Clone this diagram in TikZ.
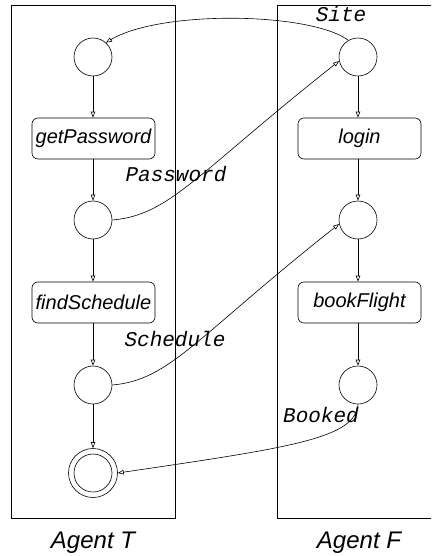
\documentclass[tikz,border=0pt]{standalone}
\usepackage{fontspec}
\setmainfont{Liberation Sans}
\newfontfamily\msgfont{Liberation Mono}
\usetikzlibrary{arrows.meta}

\begin{document}
\begin{tikzpicture}[x=1pt,y=1pt,line width=0.6pt,
    place/.style={draw,circle,minimum size=38pt,inner sep=0pt},
    action/.style={draw,rounded corners=6pt,minimum width=123pt,minimum height=41pt,
      inner sep=0pt,font=\fontsize{20}{24}\selectfont\itshape},
    flow/.style={-{Triangle[open,length=6pt,width=4.5pt]}},
    msg/.style={inner sep=0pt,font=\fontsize{21}{24}\selectfont\msgfont\itshape},
    agent/.style={anchor=base,font=\fontsize{24}{28}\selectfont\itshape}]
    \useasboundingbox (0,0) rectangle (431,-556);
    \clip (0,0) rectangle (431,-556);

    % the two agents
    \draw (11.7,-5.7) rectangle (175,-518);
    \draw (277.7,-5.7) rectangle (445,-518);
    \node[agent] (agentT) at (93,-548) {Agent T};
    \node[agent] (agentF) at (359,-548) {Agent F};

    % agent T
    \node[place] (t1) at (93,-57) {};
    \node[action] (getpw) at (93.5,-138.5) {getPassword};
    \node[place] (t2) at (93,-220) {};
    \node[action] (findsch) at (93.5,-302.5) {findSchedule};
    \node[place] (t3) at (93,-385) {};
    \node[place,minimum size=49pt] (tend) at (93,-473) {};
    \draw (tend.center) circle (19pt);

    \draw[flow] (t1) -- (t1 |- getpw.north);
    \draw[flow] (t1 |- getpw.south) -- (t2);
    \draw[flow] (t2) -- (t2 |- findsch.north);
    \draw[flow] (t2 |- findsch.south) -- (t3);
    \draw[flow] (t3) -- (tend);

    % agent F
    \node[place] (f1) at (358,-57) {};
    \node[action] (login) at (359.5,-138.5) {login};
    \node[place] (f2) at (358,-220) {};
    \node[action] (book) at (359.5,-302.5) {bookFlight};
    \node[place] (f3) at (358,-385) {};

    \draw[flow] (f1) -- (f1 |- login.north);
    \draw[flow] (f1 |- login.south) -- (f2);
    \draw[flow] (f2) -- (f2 |- book.north);
    \draw[flow] (f2 |- book.south) -- (f3);

    % messages between the agents
    \draw[flow] (f1.120) .. controls (310,-12) and (160,-10) .. (t1.48);
    \draw[flow] (t2.east) .. controls (170,-215) and (195,-175) .. (f1.192);
    \draw[flow] (t3.east) .. controls (170,-380) and (195,-338) .. (f2.192);
    \draw[flow] (f3.south) .. controls (355,-438) and (295,-447) .. (tend.east);

    \node[msg] (site) at (341,-14) {Site};
    \node[msg] (pw) at (176,-174) {Password};
    \node[msg] (sched) at (175,-339) {Schedule};
    \node[msg] (booked) at (321,-415) {Booked};
\end{tikzpicture}
\end{document}
